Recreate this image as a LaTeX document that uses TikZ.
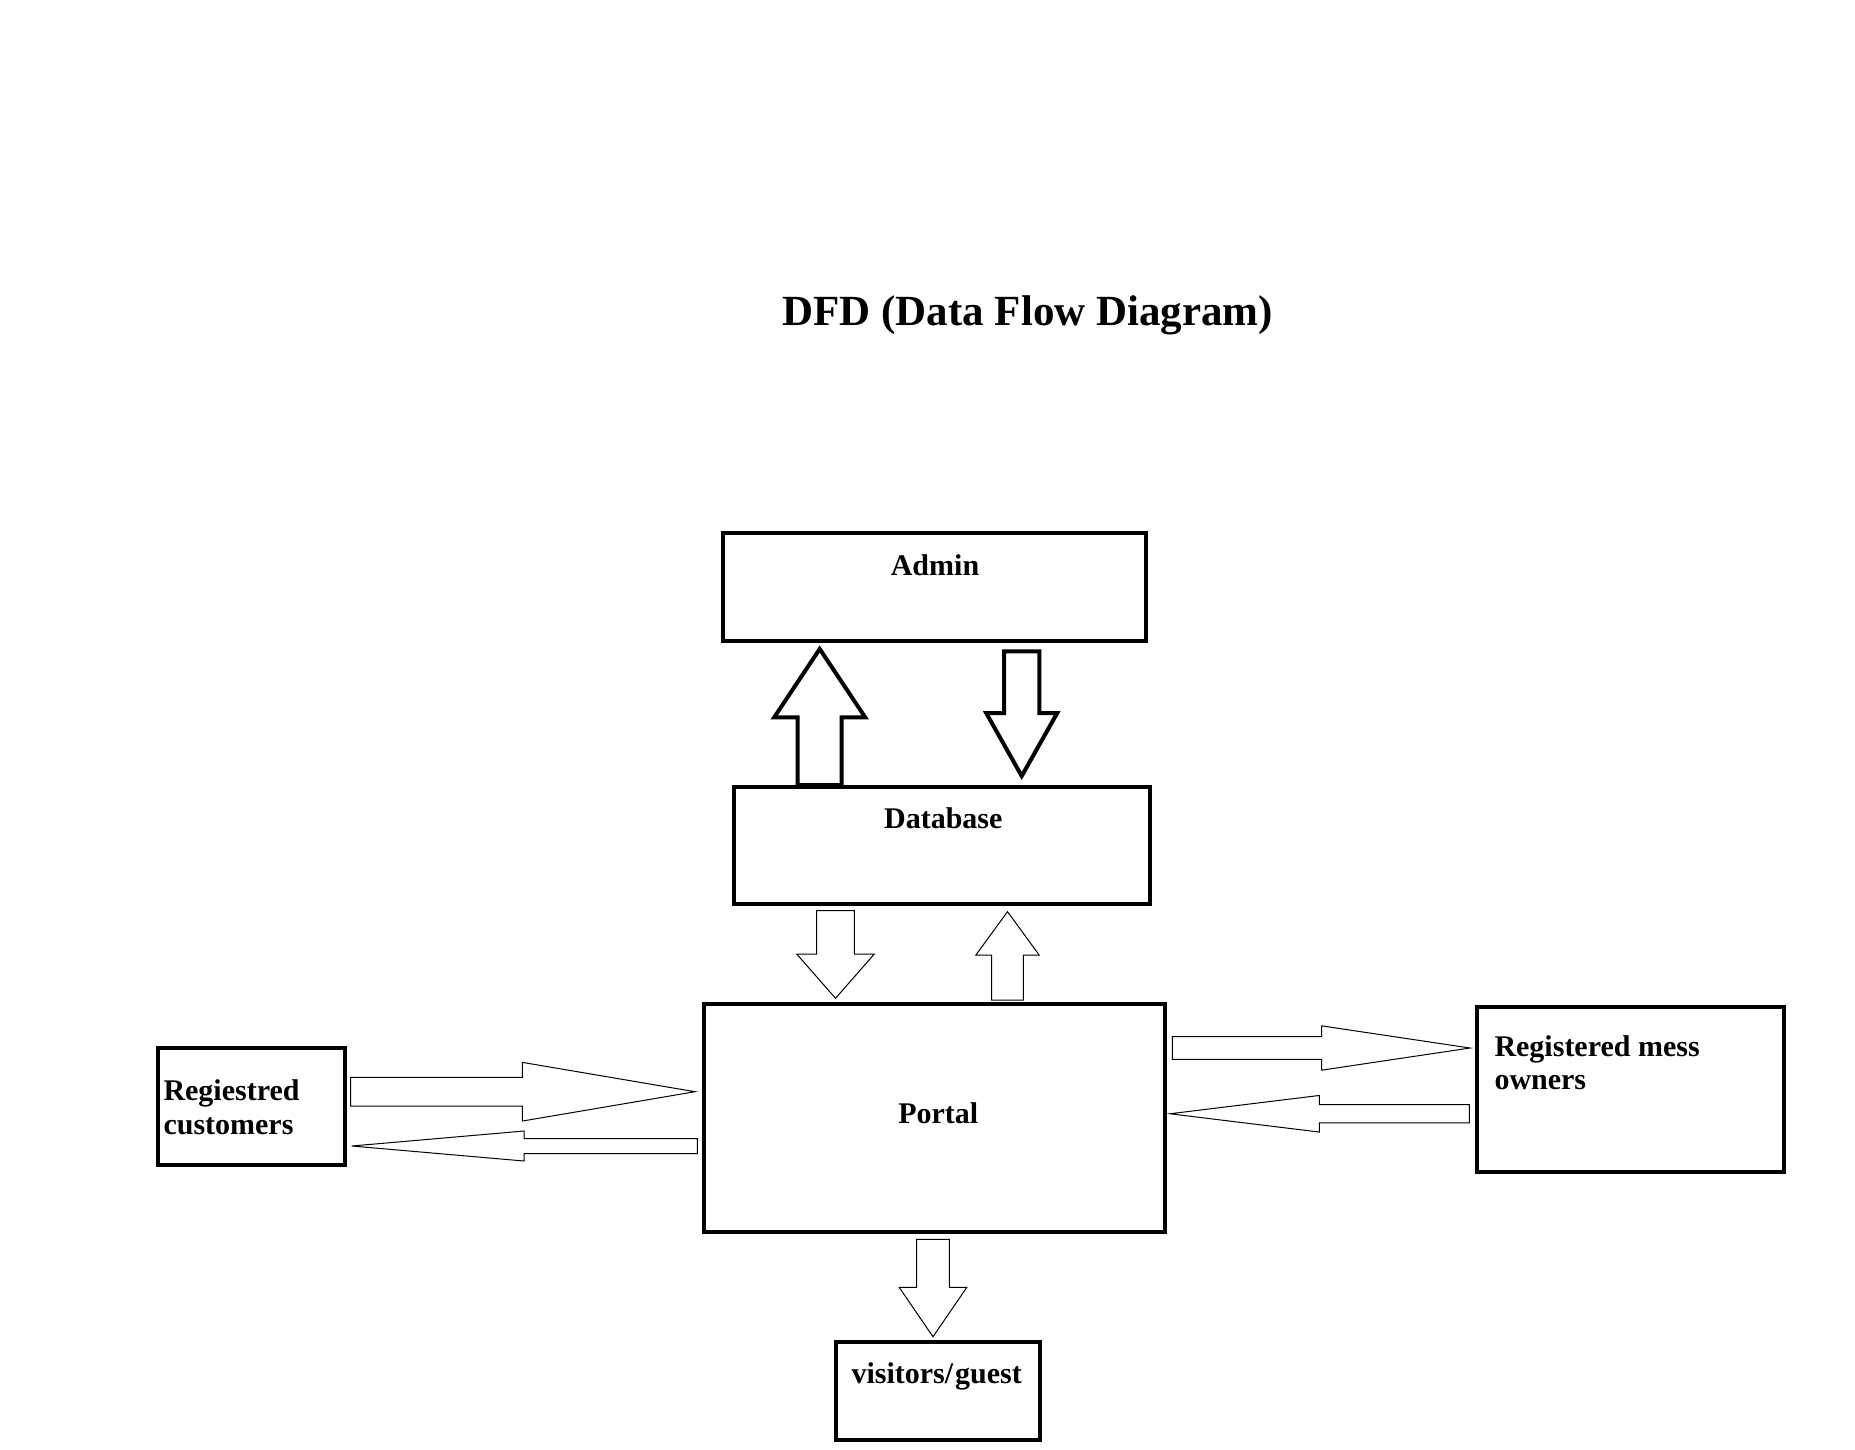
\documentclass[tikz,border=0pt]{standalone}
\usepackage{fontspec}
\setmainfont{Liberation Serif}
\usetikzlibrary{calc}
\newcommand\blockarrow[7]{% #1 name, #2 style, #3 start, #4 tip, #5 shaft half width, #6 head length, #7 head half width
  \coordinate (#1-s) at #3;
  \coordinate (#1-t) at #4;
  \coordinate (#1-h) at ($(#1-t)!#6!(#1-s)$);
  \draw[#2] ($(#1-s)!#5!90:(#1-t)$) -- ($(#1-h)!#5!90:(#1-t)$) -- ($(#1-h)!#7!90:(#1-t)$)
    -- (#1-t) -- ($(#1-h)!#7!-90:(#1-t)$) -- ($(#1-h)!#5!-90:(#1-t)$) -- ($(#1-s)!#5!-90:(#1-t)$) -- cycle;
}
\tikzset{
  box/.style={draw, rectangle, line width=4pt, inner sep=0pt, outer sep=0pt},
  lbl/.style={font=\fontsize{30}{33.3}\selectfont\bfseries, inner sep=0pt, anchor=base},
  thinarrow/.style={draw, fill=white, line width=1pt, line join=miter},
  thickarrow/.style={draw, fill=white, line width=4pt, line join=miter},
}
\begin{document}
\begin{tikzpicture}[x=1pt, y=-1pt]
\useasboundingbox[fill=white] (0,0) rectangle (1855,1449);

\node[lbl, font=\fontsize{43}{49}\selectfont\bfseries] (title) at (1027.7,325) {DFD (Data Flow Diagram)};

\node[box, minimum width=423.3pt, minimum height=108pt] (admin) at (934.35,586.7) {};
\node[box, minimum width=415.4pt, minimum height=116.7pt] (db) at (942,845.35) {};
\node[box, minimum width=461.6pt, minimum height=228.3pt] (portal) at (934.5,1117.85) {};
\node[box, minimum width=187.3pt, minimum height=117.3pt] (cust) at (251.65,1106.65) {};
\node[box, minimum width=306.7pt, minimum height=165.3pt] (mess) at (1630.35,1089.65) {};
\node[box, minimum width=203.7pt, minimum height=98.3pt] (visit) at (937.85,1391.15) {};

\node[lbl] (admintxt) at ([shift={(0.65,42.3)}]admin.north) {Admin};
\node[lbl] (dbtxt) at ([shift={(1.3,41.3)}]db.north) {Database};
\node[lbl] (portaltxt) at ([shift={(3.8,5.45)}]portal.center) {Portal};
\node[lbl] (visittxt) at ([shift={(-1.15,41.3)}]visit.north) {visitors/\kern2pt guest};
\node[lbl, anchor=base west] (custtxt) at ([shift={(5.3,-5.95)}]cust.west)
  {\begin{tabular}[t]{@{}l@{}}Regiestred\\customers\end{tabular}};
\node[lbl, anchor=base west] (messtxt) at ([shift={(17.3,-33.65)}]mess.west)
  {\begin{tabular}[t]{@{}l@{}}Registered mess\\owners\end{tabular}};

% thick arrows between admin and database
\blockarrow{dbad}{thickarrow}{([shift={(-122.3,-2)}]db.north)}{([shift={(-114.65,8.3)}]admin.south)}{22pt}{68.3pt}{45.5pt}
\blockarrow{addb}{thickarrow}{([shift={(87.35,10.6)}]admin.south)}{([shift={(79.7,-11)}]db.north)}{17.65pt}{63pt}{35.5pt}

% thin arrows
\blockarrow{dbpo}{thinarrow}{([shift={(-106.5,7)}]db.south)}{([shift={(-99,-5.4)}]portal.north)}{18.8pt}{44.3pt}{38.8pt}
\blockarrow{podb}{thinarrow}{([shift={(73,-3.7)}]portal.north)}{([shift={(65.5,8)}]db.south)}{15.8pt}{43.3pt}{31.65pt}
\blockarrow{cupo}{thinarrow}{([shift={(5.4,-14.95)}]cust.east)}{([shift={(-8.7,-26.15)}]portal.west)}{14.35pt}{172.7pt}{29.35pt}
\blockarrow{pocu}{thinarrow}{([shift={(-6.4,28.15)}]portal.west)}{([shift={(6.4,39.35)}]cust.east)}{7.5pt}{172.3pt}{15pt}
\blockarrow{pome}{thinarrow}{([shift={(7,-69.85)}]portal.east)}{([shift={(-7,-41.65)}]mess.west)}{11.3pt}{148.3pt}{22.15pt}
\blockarrow{mepo}{thinarrow}{([shift={(-7.7,24.1)}]mess.west)}{([shift={(4.7,-4.1)}]portal.east)}{9.2pt}{149.3pt}{18.3pt}
\blockarrow{povi}{thinarrow}{([shift={(-1.5,7.3)}]portal.south)}{([shift={(-4.85,-5.3)}]visit.north)}{16.3pt}{49.4pt}{33.85pt}
\end{tikzpicture}
\end{document}
